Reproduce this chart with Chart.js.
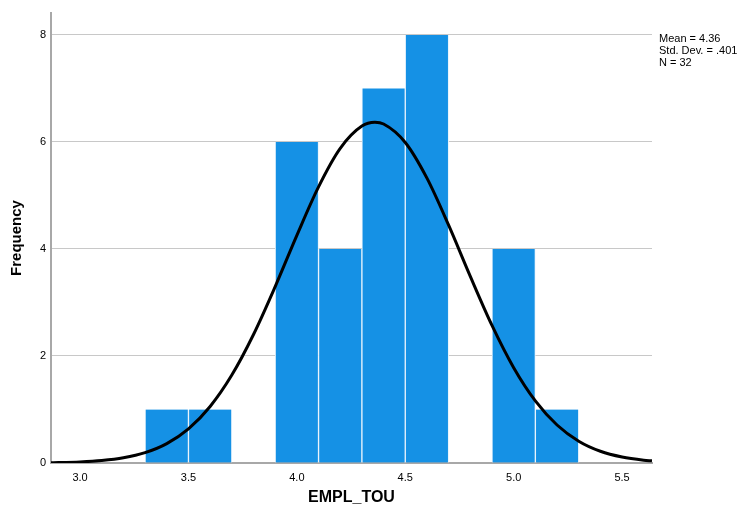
<!DOCTYPE html>
<html>
<head>
<meta charset="utf-8">
<script src="https://cdn.jsdelivr.net/npm/chart.js@4.4.1/dist/chart.umd.min.js"></script>
<style>
  html, body { margin: 0; padding: 0; background: #fff; }
  #box { width: 740px; height: 513px; }
</style>
</head>
<body>
<div id="box"><canvas id="histo"></canvas></div>
<script>
// histogram bins (centres) and counts
const binCentres = [3.4, 3.6, 4.0, 4.2, 4.4, 4.6, 5.0, 5.2];
const frecuencias = [1, 1, 6, 4, 7, 8, 4, 1];

// normal curve
const curvaX = [2.866, 2.9, 3.0, 3.1, 3.2, 3.3, 3.4, 3.5, 3.6, 3.7, 3.8, 3.9, 4.0, 4.1, 4.2, 4.3, 4.36, 4.4, 4.5, 4.6, 4.7, 4.8, 4.9, 5.0, 5.1, 5.2, 5.3, 5.4, 5.5, 5.6, 5.638];
const curvaY = [0.006, 0.008, 0.020, 0.046, 0.097, 0.193, 0.362, 0.638, 1.057, 1.644, 2.402, 3.297, 4.255, 5.161, 5.880, 6.296, 6.367, 6.335, 5.990, 5.323, 4.444, 3.487, 2.571, 1.781, 1.160, 0.710, 0.408, 0.220, 0.112, 0.053, 0.040];

const xTicks = [3.0, 3.5, 4.0, 4.5, 5.0, 5.5];
const yTicks = [0, 2, 4, 6, 8];
const estadisticas = ['Mean = 4.36', 'Std. Dev. = .401', 'N = 32'];

const fuente = '"Liberation Sans", Arial, sans-serif';

const textoStats = {
  id: 'textoStats',
  afterDraw(chart) {
    const c = chart.ctx;
    c.save();
    c.fillStyle = '#000';
    c.font = '11px ' + fuente;
    c.textBaseline = 'middle';
    estadisticas.forEach((t, i) => c.fillText(t, 659, 39 + i * 12));
    c.restore();
  }
};

const ctx = document.getElementById('histo');
let grafico = new Chart(ctx, {
  type: 'bar',
  data: {
    datasets: [{
      type: 'line',
      data: curvaX.map((x, i) => ({ x: x, y: curvaY[i] })),
      borderColor: '#000',
      borderWidth: 3,
      pointRadius: 0,
      cubicInterpolationMode: 'monotone',
      fill: false,
      order: 0
    }, {
      type: 'bar',
      data: binCentres.map((x, i) => ({ x: x, y: frecuencias[i] })),
      backgroundColor: '#1591E5',
      borderColor: '#e8f3fc',
      borderWidth: { left: 1, right: 1, top: 0, bottom: 0 },
      borderSkipped: false,
      barPercentage: 1,
      categoryPercentage: 1,
      grouped: false,
      order: 1
    }]
  },
  options: {
    responsive: true,
    maintainAspectRatio: false,
    animation: false,
    layout: { padding: { top: 13, right: 88, left: 0, bottom: 0 } },
    plugins: { legend: { display: false }, tooltip: { enabled: false } },
    scales: {
      x: {
        type: 'linear',
        min: 2.866,
        max: 5.638,
        offset: false,
        afterBuildTicks: s => { s.ticks = xTicks.map(v => ({ value: v })); },
        afterFit: s => { s.height = 50; },
        ticks: {
          callback: v => v.toFixed(1),
          font: { family: fuente, size: 11 },
          color: '#000',
          padding: 8,
          maxRotation: 0
        },
        grid: { display: false, drawTicks: false },
        border: { display: true, color: '#a8a8a8', width: 2 },
        title: {
          display: true,
          text: 'EMPL_TOU',
          font: { family: fuente, size: 16, weight: 'bold' },
          color: '#000',
          padding: { top: 4, bottom: 6 }
        }
      },
      y: {
        min: 0,
        max: 8.41,
        afterBuildTicks: s => { s.ticks = yTicks.map(v => ({ value: v })); },
        afterFit: s => { s.width = 51; },
        ticks: {
          font: { family: fuente, size: 11 },
          color: '#000',
          padding: 5
        },
        grid: {
          drawTicks: false,
          color: ctx => ctx.tick && ctx.tick.value === 0 ? 'rgba(0,0,0,0)' : '#c8c8c8',
          lineWidth: 1
        },
        border: { display: true, color: '#a8a8a8', width: 2 },
        title: {
          display: true,
          text: 'Frequency',
          font: { family: fuente, size: 15, weight: 'bold' },
          color: '#000',
          padding: { top: 8, bottom: 0 }
        }
      }
    }
  },
  plugins: [textoStats]
});
</script>
</body>
</html>
